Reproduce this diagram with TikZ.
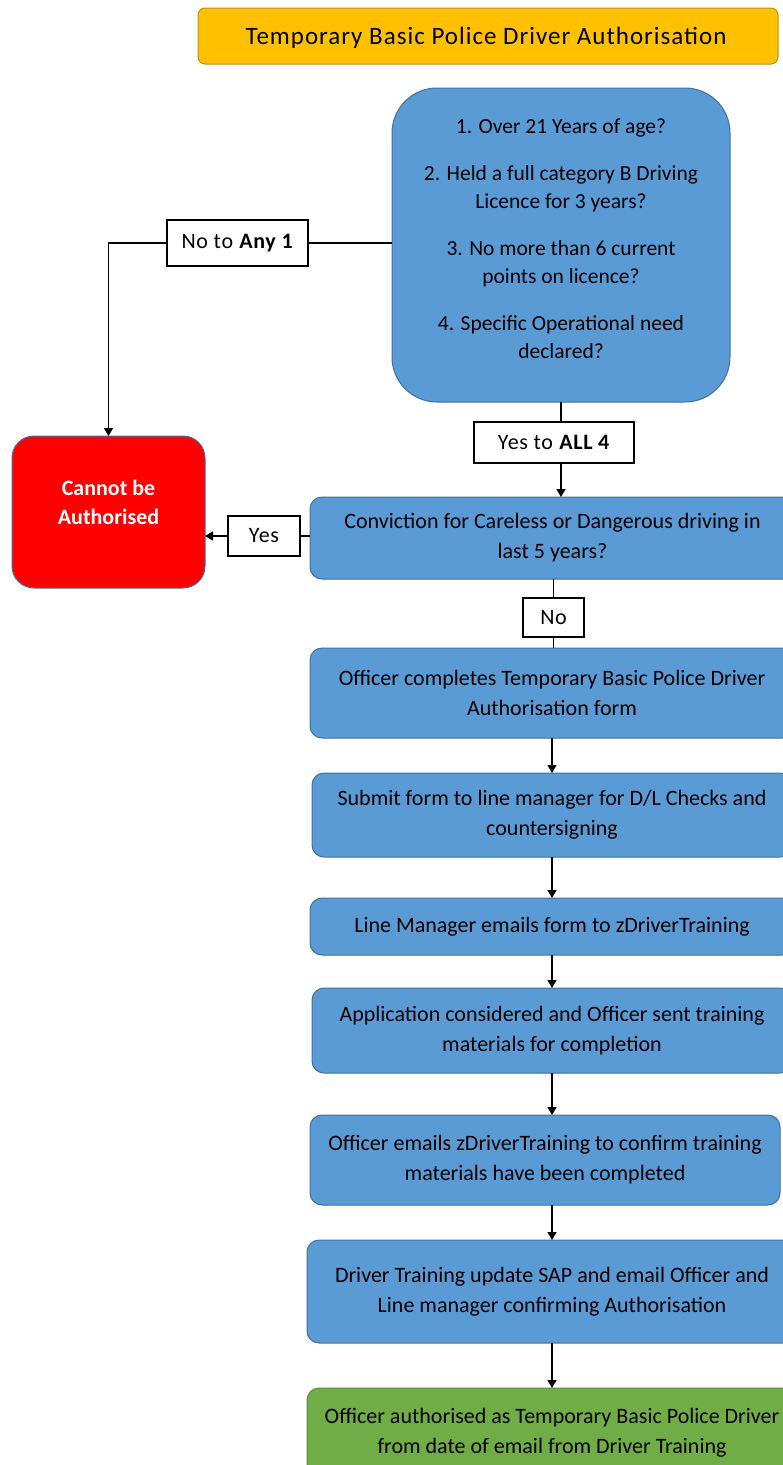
\documentclass[tikz,border=0pt]{standalone}
\usepackage{fontspec}
\setmainfont{Carlito}
\newfontfamily\widefont[LetterSpace=4]{Carlito}
\newfontfamily\tagfont[LetterSpace=3]{Carlito}
\usetikzlibrary{arrows.meta}
\definecolor{boxblue}{HTML}{5B9BD5}
\definecolor{edgeblue}{HTML}{41719C}
\definecolor{titleorange}{HTML}{FFC000}
\definecolor{titleedge}{HTML}{C09020}
\definecolor{stopred}{HTML}{FF0000}
\definecolor{okgreen}{HTML}{70AD47}
\definecolor{greenedge}{HTML}{5A8F38}

\begin{document}
\begin{tikzpicture}[x=1pt,y=-1pt,
  every node/.style={inner sep=0pt, outer sep=0pt},
  stage/.style={draw=edgeblue, fill=boxblue, line width=1pt, rounded corners=12pt,
    align=center, text=black, font=\fontsize{22}{30}\selectfont},
  tag/.style={draw=black, fill=white, line width=1.4pt, align=center,
    font=\tagfont\fontsize{22}{24}\selectfont},
  link/.style={draw=black, line width=1.3pt},
  flow/.style={link, -{Triangle[width=9pt,length=8pt]}},
]
\useasboundingbox (0,0) rectangle (783,1465);
\clip (0,0) rectangle (783,1465);

% title banner
\node[draw=titleedge, fill=titleorange, line width=1pt, rounded corners=7pt,
  minimum width=580pt, minimum height=56pt]
  (title) at (488,36) {};
\node[font=\widefont\fontsize{25}{28}\selectfont] (titletext) at (486,38)
  {Temporary Basic Police Driver Authorisation};

% eligibility criteria
\node[stage, rounded corners=45pt, minimum width=338pt, minimum height=314pt] (criteria) at (561,245) {};
\node[align=center, font=\fontsize{21.5}{28}\selectfont] (criteriatext) at (561,239)
  {1. Over 21 Years of age?\\[19pt]
   2. Held a full category B Driving\\ Licence for 3 years?\\[19pt]
   3. No more than 6 current\\ points on licence?\\[19pt]
   4. Specific Operational need\\ declared?};

% refusal
\node[draw=edgeblue, fill=stopred, line width=1pt, rounded corners=22pt,
  minimum width=193pt, minimum height=152pt] (stop) at (108.5,512) {};
\node[align=center, text=white, font=\bfseries\fontsize{22}{29}\selectfont]
  (stoptext) at (108.5,502) {Cannot be\\ Authorised};

\node[tag, minimum width=141pt, minimum height=46pt] (anyno) at (237.5,243) {No to \textbf{Any 1}};
\node[tag, minimum width=160pt, minimum height=41pt] (allyes) at (554,442.5) {Yes to \textbf{ALL 4}};

% conviction check
\node[stage, minimum width=485pt, minimum height=82pt] (conviction) at (552.5,538)
  {Conviction for Careless or Dangerous driving in\\ last 5 years?};
\node[tag, minimum width=72pt, minimum height=40pt] (convyes) at (264,536) {Yes};
\node[tag, minimum width=61pt, minimum height=39pt] (convno) at (553.5,617.5) {No};

% application steps
\node[stage, minimum width=484pt, minimum height=90pt] (form) at (552,693)
  {Officer completes Temporary Basic Police Driver\\ Authorisation form};
\node[stage, minimum width=480pt, minimum height=84pt] (submit) at (552,815)
  {Submit form to line manager for D/L Checks and\\ countersigning};
\node[stage, minimum width=484pt, minimum height=57pt] (emailform) at (552,926.5)
  {Line Manager emails form to zDriverTraining};
\node[stage, minimum width=480pt, minimum height=85pt] (consider) at (552,1030.5)
  {Application considered and Officer sent training\\ materials for completion};
\node[stage, minimum width=470pt, minimum height=90pt] (confirm) at (545,1160)
  {Officer emails zDriverTraining to confirm training\\ materials have been completed};
\node[stage, minimum width=490pt, minimum height=103pt] (update) at (552,1291.5)
  {Driver Training update SAP and email Officer and\\ Line manager confirming Authorisation};
\node[stage, draw=greenedge, fill=okgreen, minimum width=490pt, minimum height=90pt]
  (authorised) at (552,1433)
  {Officer authorised as Temporary Basic Police Driver\\ from date of email from Driver Training};

% connectors
\draw[link] (criteria.west |- anyno.east) -- (anyno.east);
\draw[flow] (anyno.west) -| (stop.north);
\draw[link] (criteria.south) -- (criteria.south |- allyes.north);
\draw[flow] (allyes.south -| criteria.south) -- (conviction.north -| criteria.south);
\draw[link] (conviction.west |- convyes.east) -- (convyes.east);
\draw[flow] (convyes.west) -- (convyes.west -| stop.east);
\draw[link] (conviction.south -| convno.north) -- (convno.north);
\draw[link] (convno.south) -- (convno.south |- form.north);
\draw[flow] (form.south) -- (submit.north);
\draw[flow] (submit.south) -- (emailform.north);
\draw[flow] (emailform.south) -- (consider.north);
\draw[flow] (consider.south) -- (consider.south |- confirm.north);
\draw[flow] (confirm.south -| consider.south) -- (update.north -| consider.south);
\draw[flow] (update.south) -- (authorised.north);
\end{tikzpicture}
\end{document}
